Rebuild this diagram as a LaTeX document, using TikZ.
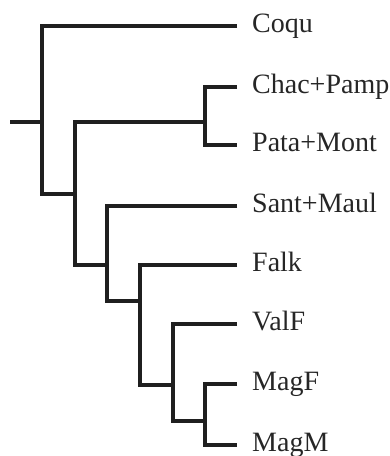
\documentclass[tikz,border=0pt]{standalone}
\usepackage{fontspec}
\setmainfont{Liberation Serif}
\begin{document}
\begin{tikzpicture}[x=1pt,y=-1pt,
  branch/.style={line width=3.8pt, line join=miter, color=black!88},
  leaf/.style={anchor=base west, inner sep=0pt, font=\fontsize{28}{30}\selectfont, text=black!85}]
\useasboundingbox (0,0) rectangle (390,456);
% internal points
\coordinate (r) at (10,122);
\coordinate (a) at (42,122);
\coordinate (b) at (75,194);
\coordinate (c) at (205,122);
\coordinate (d) at (107,265);
\coordinate (e) at (140,301);
\coordinate (f) at (173,385);
\coordinate (g) at (205,421);
% leaf tips
\coordinate (tCoqu) at (237,26);
\coordinate (tChac) at (237,87);
\coordinate (tPata) at (237,145);
\coordinate (tSant) at (237,206);
\coordinate (tFalk) at (237,265);
\coordinate (tValF) at (237,324);
\coordinate (tMagF) at (237,384);
\coordinate (tMagM) at (237,445);
% labels
\node[leaf] (lCoqu) at (252,32) {Coqu};
\node[leaf] (lChac) at (252,93) {Chac+Pamp};
\node[leaf] (lPata) at (252,151) {Pata+Mont};
\node[leaf] (lSant) at (252,212) {Sant+Maul};
\node[leaf] (lFalk) at (252,271) {Falk};
\node[leaf] (lValF) at (252,330) {ValF};
\node[leaf] (lMagF) at (252,390) {MagF};
\node[leaf] (lMagM) at (252,451) {MagM};
% branches
\draw[branch] (r) -- (a);
\draw[branch] (tCoqu) -| (a) |- (b);
\draw[branch] (c) -| (b) |- (d);
\draw[branch] (tChac) -| (c) |- (tPata);
\draw[branch] (tSant) -| (d) |- (e);
\draw[branch] (tFalk) -| (e) |- (f);
\draw[branch] (tValF) -| (f) |- (g);
\draw[branch] (tMagF) -| (g) |- (tMagM);
\end{tikzpicture}
\end{document}
